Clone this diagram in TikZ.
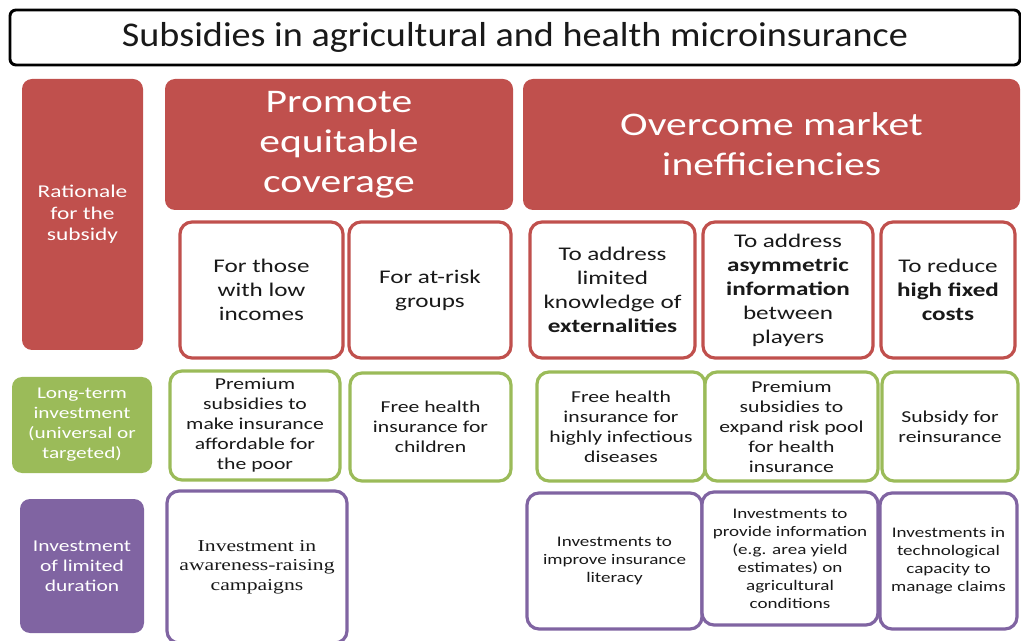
\documentclass[tikz,border=0pt]{standalone}
\usepackage{fontspec}
\setmainfont[FakeStretch=1.3]{Carlito}
\newfontfamily\titlefont[FakeStretch=1.1]{Carlito}
\newfontfamily\headfont[FakeStretch=1.26]{Carlito}
\newfontfamily\camfont[FakeStretch=1.3]{Liberation Serif}
\definecolor{rbox}{HTML}{C0504D}
\definecolor{gbox}{HTML}{9BBB59}
\definecolor{pbox}{HTML}{8064A2}
\begin{document}
\begin{tikzpicture}[x=0.75pt,y=-0.75pt,
sz/.style 2 args={minimum width=#1*0.75pt,minimum height=#2*0.75pt},
cell/.style={inner sep=0pt,align=center,rounded corners=9pt,line width=2.4pt,fill=white,text=black!90},
lab/.style={inner sep=0pt,align=center,rounded corners=7.5pt,fill=#1,text=white},
head/.style={lab=rbox,font=\headfont\fontsize{24.75}{30}\selectfont},
rcell/.style={cell,draw=rbox,font=\fontsize{14.5}{18}\selectfont},
gcell/.style={cell,draw=gbox,font=\fontsize{12.5}{15}\selectfont},
pcell/.style={cell,draw=pbox,font=\fontsize{11}{13.5}\selectfont}]
\useasboundingbox (0,0) rectangle (1021,641);
\clip (0,0) rectangle (1021,641);
\node[cell,draw=black,line width=2.2pt,rounded corners=4.5pt,sz={1010}{55},font=\titlefont\fontsize{26}{30}\selectfont] (title) at (515,37.5) {Subsidies in agricultural and health microinsurance};
\node[lab=rbox,sz={121}{271},font=\fontsize{13.5}{16}\selectfont] (rat) at (82.5,214.5) {Rationale\\for the\\subsidy};
\node[head,sz={348}{131}] (prom) at (339,144.5) {Promote\\equitable\\coverage};
\node[head,sz={497}{131}] (over) at (771.5,144.5) {Overcome market\\inefficiencies};
\node[rcell,sz={163}{136}] (low) at (261.5,290) {For those\\with low\\incomes};
\node[rcell,sz={162}{136}] (risk) at (430,290) {For at-risk\\groups};
\node[rcell,sz={165}{136}] (ext) at (612.5,290) {To address\\limited\\knowledge of\\\textbf{externalities}};
\node[rcell,sz={170}{136}] (asym) at (788,290) {To address\\\textbf{asymmetric}\\\textbf{information}\\between\\players};
\node[rcell,sz={134}{136}] (fixed) at (948,290) {To reduce\\\textbf{high fixed}\\\textbf{costs}};
\node[lab=gbox,sz={140}{96},font=\fontsize{12.3}{15}\selectfont] (long) at (82,425) {Long-term\\investment\\(universal or\\targeted)};
\node[gcell,sz={170}{109}] (poor) at (255,425.5) {Premium\\subsidies to\\make insurance\\affordable for\\the poor};
\node[gcell,sz={161}{108}] (child) at (430.5,427) {Free health\\insurance for\\children};
\node[gcell,sz={168}{109}] (infect) at (621,426.5) {Free health\\insurance for\\highly infectious\\diseases};
\node[gcell,sz={173}{109}] (pool) at (791.5,426.5) {Premium\\subsidies to\\expand risk pool\\for health\\insurance};
\node[gcell,sz={136}{109}] (reins) at (950,426.5) {Subsidy for\\reinsurance};
\node[lab=pbox,sz={124}{134},font=\fontsize{12.4}{15}\selectfont] (ltd) at (82,566) {Investment\\of limited\\duration};
\node[pcell,sz={180}{152},font=\camfont\fontsize{12.5}{14.6}\selectfont] (aware) at (257,567) {Investment in\\awareness-raising\\campaigns};
\node[pcell,sz={175}{136}] (lit) at (614.5,561) {Investments to\\improve insurance\\literacy};
\node[pcell,sz={176}{133}] (info) at (790,558.5) {Investments to\\provide information\\(e.g. area yield\\estimates) on\\agricultural\\conditions};
\node[pcell,sz={137}{136}] (tech) at (948.5,561) {Investments in\\technological\\capacity to\\manage claims};
\end{tikzpicture}
\end{document}
